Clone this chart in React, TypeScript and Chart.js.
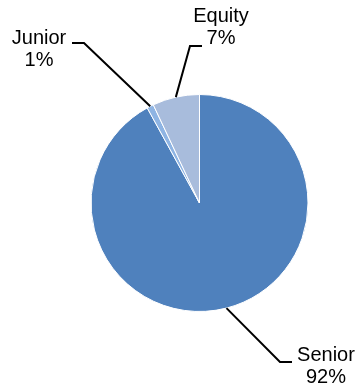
import React, { useEffect, useRef } from "react";
import { Chart, registerables } from "chart.js";

Chart.register(...registerables);

const categories = ["Senior", "Junior", "Equity"];
const shares = [92, 1, 7];
const percentLabels = ["92%", "1%", "7%"];
const sliceColors = ["#4F81BD", "#8EB4E3", "#A8BCDC"];

// label placement (leader-line elbow, end, and text-block centre)
const labelLayout = [
  { elbow: [280, 362], end: [292, 362], text: [326, 355] },
  { elbow: [84, 43], end: [72, 43], text: [39, 38] },
  { elbow: [190, 46], end: [202, 46], text: [221, 16] },
];

const FONT = '20px "Liberation Sans", Arial, sans-serif';
const LINE_GAP = 22;

const leaderPlugin = {
  id: "leaderLabels",
  afterDraw(chart: any) {
    const ctx = chart.ctx;
    const meta = chart.getDatasetMeta(0);
    ctx.save();
    meta.data.forEach((arc: any, i: number) => {
      const { x, y, startAngle, endAngle, outerRadius } = arc.getProps(
        ["x", "y", "startAngle", "endAngle", "outerRadius"],
        true
      );
      const mid = (startAngle + endAngle) / 2;
      const sx = x + Math.cos(mid) * outerRadius;
      const sy = y + Math.sin(mid) * outerRadius;
      const lay = labelLayout[i];
      ctx.strokeStyle = "#000";
      ctx.lineWidth = 2;
      ctx.beginPath();
      ctx.moveTo(sx, sy);
      ctx.lineTo(lay.elbow[0], lay.elbow[1]);
      ctx.lineTo(lay.end[0], lay.end[1]);
      ctx.stroke();
      ctx.fillStyle = "#000";
      ctx.font = FONT;
      ctx.textAlign = "center";
      ctx.textBaseline = "middle";
      ctx.fillText(categories[i], lay.text[0], lay.text[1]);
      ctx.fillText(percentLabels[i], lay.text[0], lay.text[1] + LINE_GAP);
    });
    ctx.restore();
  },
};

export default function App() {
  const ref = useRef<HTMLCanvasElement | null>(null);
  useEffect(() => {
    document.body.style.margin = "0";
    if (!ref.current) return;
    const chart = new Chart(ref.current, {
      type: "pie",
      data: {
        labels: categories,
        datasets: [
          {
            data: shares,
            backgroundColor: sliceColors,
            borderColor: "#FFFFFF",
            borderWidth: 1,
          },
        ],
      },
      options: {
        responsive: false,
        animation: false,
        devicePixelRatio: 1,
        layout: { padding: { left: 90, right: 51, top: 94, bottom: 75 } },
        plugins: {
          legend: { display: false },
          tooltip: { enabled: false },
        },
      },
      plugins: [leaderPlugin],
    });
    return () => chart.destroy();
  }, []);
  return (
    <div style={{ width: 360, height: 387 }}>
      <canvas ref={ref} width={360} height={387} />
    </div>
  );
}
